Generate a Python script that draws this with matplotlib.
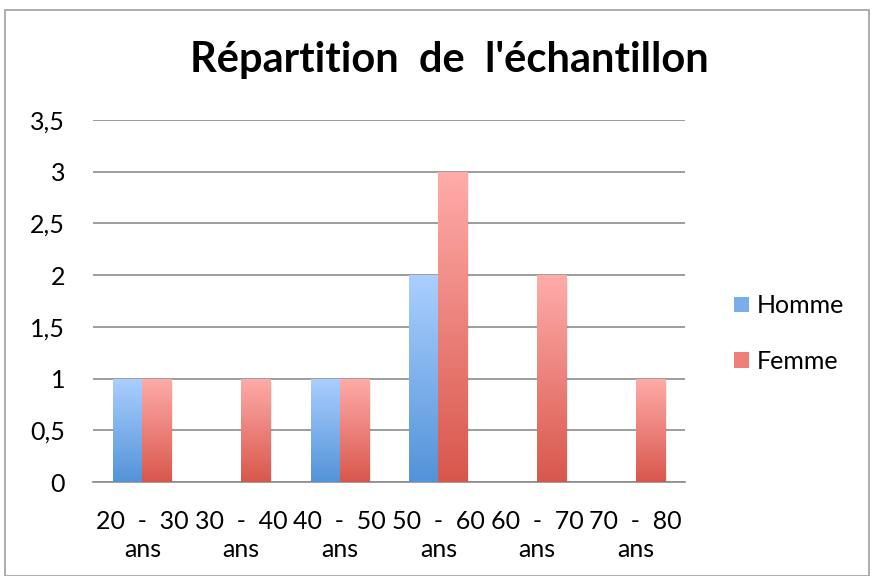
import numpy as np
import matplotlib.pyplot as plt
from matplotlib.colors import LinearSegmentedColormap
from matplotlib.patches import Rectangle

categories = ["20  -  30\nans", "30  -  40\nans", "40  -  50\nans",
              "50  -  60\nans", "60  -  70\nans", "70  -  80\nans"]
homme = [1, 0, 1, 2, 0, 0]
femme = [1, 1, 1, 3, 2, 1]
y_ticks = [0, 0.5, 1, 1.5, 2, 2.5, 3, 3.5]

plt.rcParams['font.family'] = ['Lato', 'DejaVu Sans']

fig = plt.figure(figsize=(8.75, 5.76), dpi=100)
fig.patches.append(Rectangle((5 / 875, 0), 864 / 875, 566 / 576, transform=fig.transFigure,
                             fill=False, edgecolor='#a0a0a0', linewidth=1.2))
ax = fig.add_axes([93 / 875, 94 / 576, 592 / 875, 362 / 576])

x = np.arange(len(categories))
w = 0.295
blue_cmap = LinearSegmentedColormap.from_list('b', ['#5393d8', '#abcfff'])
red_cmap = LinearSegmentedColormap.from_list('r', ['#d8574c', '#ffaca9'])

bars_h = ax.bar(x - w / 2, homme, w, color='#7aaeea', label='Homme', zorder=3)
bars_f = ax.bar(x + w / 2, femme, w, color='#ee7f78', label='Femme', zorder=3)

# gradient fill inside each bar
grad = np.linspace(0, 1, 256).reshape(-1, 1)
for bars, cmap in [(bars_h, blue_cmap), (bars_f, red_cmap)]:
    for b in bars:
        h = b.get_height()
        if h <= 0:
            continue
        bx, bw = b.get_x(), b.get_width()
        im = ax.imshow(grad, cmap=cmap, origin='lower', aspect='auto',
                       extent=[bx, bx + bw, 0, h], zorder=4)
        im.set_clip_path(b)
        # faint shadow
        ax.add_patch(Rectangle((bx + 0.02, -0.03), bw, h, color='#000000',
                               alpha=0.08, zorder=2, linewidth=0))

ax.set_xlim(-0.5, len(categories) - 0.5)
ax.set_ylim(0, 3.5)
ax.set_yticks(y_ticks)
ax.set_yticklabels([f"{v:g}".replace('.', ',') for v in y_ticks])
ax.set_xticks(x)
ax.set_xticklabels(categories, linespacing=1.3)
ax.grid(axis='y', color='#8c8c8c', linewidth=1.2, zorder=0)
ax.set_axisbelow(True)
for s in ['top', 'right', 'left']:
    ax.spines[s].set_visible(False)
ax.spines['bottom'].set_color('#8c8c8c')
ax.spines['bottom'].set_linewidth(1.2)
ax.tick_params(axis='both', length=0, labelsize=18, colors='black')
ax.tick_params(axis='y', pad=20)
ax.tick_params(axis='x', pad=20)

# title is centred on the whole chart, not on the plot area
fig.text(449 / 875, 1 - 60 / 576, "Répartition  de  l'échantillon", fontsize=30,
         fontweight='bold', ha='center', va='center')

leg = ax.legend(loc='center left', bbox_to_anchor=(1.045, 0.41), frameon=False,
                fontsize=18, handlelength=0.6, handleheight=0.6, handletextpad=0.3,
                labelspacing=1.3)

fig.savefig('out.png', dpi=100)
